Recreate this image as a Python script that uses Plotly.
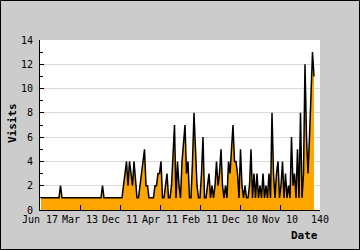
import plotly.graph_objects as go

# Daily visits
visits = [
    1,1,1,1,1,1,1,1,1,1,1,1,1,2,1,1,1,1,1,1,   # 0-19
    1,1,1,1,1,1,1,1,1,1,1,1,1,1,1,1,1,1,1,1,   # 20-39
    1,2,1,1,1,1,1,1,1,1,1,1,1,1,1,2,3,4,2,4,   # 40-59
    3,2,4,2,1,1,2,3,4,5,2,2,1,1,1,1,2,2,3,3,   # 60-79
    4,1,1,2,3,1,1,2,5,7,1,4,2,1,4,6,7,3,4,1,   # 80-99
    1,4,8,5,2,1,1,3,6,1,1,2,3,1,2,1,2,4,2,3,   # 100-119
    5,2,1,2,1,4,3,5,7,4,4,3,1,5,2,1,2,1,1,2,   # 120-139
    5,1,3,1,3,1,2,1,3,1,2,1,3,1,8,3,1,3,4,1,   # 140-159
    2,4,1,3,1,2,1,6,2,3,1,5,1,8,1,3,12,6,3,6,  # 160-179
    10,13,11,                                   # 180-182
]
days = list(range(len(visits)))

tick_labels = ["Jun 17", "Mar 13", "Dec 11", "Apr 11", "Feb 11", "Dec 10", "Nov 10", "140"]
y_ticks = [0, 2, 4, 6, 8, 10, 12, 14]

x_lo, x_hi = -1 / 1.5, 186.0
step = (x_hi - x_lo) / (len(tick_labels) - 1)
tick_pos = [x_lo + k * step for k in range(len(tick_labels))]

font_mono = "DejaVu Sans Mono"

fig = go.Figure()
fig.add_trace(go.Scatter(
    x=days, y=visits, mode="lines",
    line=dict(color="black", width=1.5),
    fill="tozeroy", fillcolor="#FFA500",
    hoverinfo="skip",
))

W, H = 360, 250
L, R, T, B = 40, 40, 40, 40
pw, ph = W - L - R, H - T - B

def px_x(p):
    return (p - L) / pw

def px_y(p):
    return (H - B - p) / ph

fig.update_layout(
    width=W, height=H,
    margin=dict(l=L, r=R, t=T, b=B, pad=0),
    paper_bgcolor="#cccccc",
    plot_bgcolor="white",
    showlegend=False,
    font=dict(family=font_mono, size=10, color="black"),
    xaxis=dict(
        range=[x_lo, x_hi + 1e-6],
        tickmode="array", tickvals=tick_pos, ticktext=tick_labels,
        ticks="inside", ticklen=5, tickcolor="black", tickwidth=1,
        showline=True, linecolor="black", linewidth=1,
        showgrid=False, zeroline=False,
        tickfont=dict(family=font_mono, size=10),
    ),
    yaxis=dict(
        range=[0, 14],
        tickmode="array", tickvals=y_ticks,
        ticks="inside", ticklen=4, tickcolor="black", tickwidth=1,
        showline=True, linecolor="black", linewidth=1,
        showgrid=True, gridcolor="#d9d9d9", gridwidth=1,
        zeroline=False,
        minor=dict(dtick=1, ticks="inside", ticklen=3, tickcolor="black", showgrid=False),
        tickfont=dict(family=font_mono, size=10),
        ticklabelstandoff=4,
    ),
    shapes=[dict(
        type="rect", xref="paper", yref="paper",
        x0=px_x(0.5), x1=px_x(W - 0.5), y0=px_y(H - 0.5), y1=px_y(0.5),
        line=dict(color="black", width=1), fillcolor="rgba(0,0,0,0)", layer="above",
    )],
    annotations=[
        dict(text="<b>Date</b>", xref="paper", yref="paper",
             x=1, y=px_y(236), xanchor="right", yanchor="middle",
             showarrow=False, font=dict(family=font_mono, size=11)),
        dict(text="<b>Visits</b>", xref="paper", yref="paper",
             x=px_x(12), y=px_y(123), xanchor="center", yanchor="middle",
             textangle=-90, showarrow=False, font=dict(family=font_mono, size=11)),
    ],
)

fig.write_html("out.html")
